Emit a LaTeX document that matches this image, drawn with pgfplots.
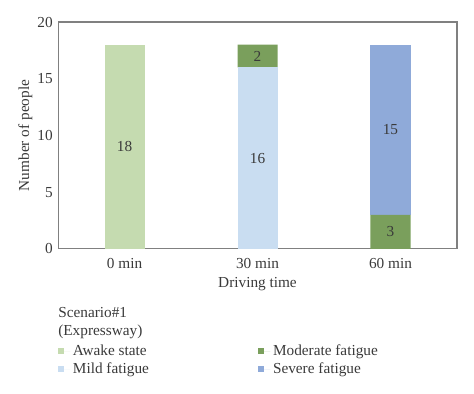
\documentclass[border=0pt]{standalone}
\usepackage{fontspec}
\setmainfont{Liberation Serif}
\usepackage{pgfplots}
\pgfplotsset{compat=1.18}
\usetikzlibrary{calc}
\definecolor{awake}{HTML}{C5DBB0}
\definecolor{mild}{HTML}{C9DDF1}
\definecolor{moderate}{HTML}{7A9F5C}
\definecolor{severe}{HTML}{8FAAD9}
\definecolor{txt}{HTML}{3A3A3A}
\definecolor{frame}{HTML}{808080}
\begin{document}
\fontsize{11.5}{13.5}\selectfont
\begin{tikzpicture}
\begin{axis}[
  scale only axis, width=299bp, height=170bp,
  ybar stacked, bar width=30bp,
  xmin=-0.5, xmax=2.5, ymin=0, ymax=20,
  xtick={0,1,2}, xticklabels={0 min,30 min,60 min},
  ytick={0,5,10,15,20},
  major tick length=0pt,
  axis line style={frame, line width=0.8pt},
  tick label style={color=txt, font=\fontsize{11.5}{13.5}\selectfont},
  /pgf/number format/assume math mode=true,
  label style={color=txt, font=\fontsize{11.5}{13.5}\selectfont},
  xlabel={Driving time}, ylabel={Number of people},
  xlabel style={yshift=1.5bp},
  ylabel style={yshift=-4bp},
  xticklabel style={yshift=-3bp},
  visualization depends on={rawy \as \rawy},
  nodes near coords={\ifdim\rawy pt>0pt \pgfmathprintnumber{\rawy}\fi},
  every node near coord/.append style={anchor=center, color=txt, font=\fontsize{11.5}{13.5}\selectfont},
  legend columns=2, transpose legend,
  legend cell align=left,
  legend style={at={(0,0)}, anchor=north west, xshift=-3bp, yshift=-67.5bp, draw=none, fill=none,
    font=\fontsize{11.5}{13.5}\selectfont, text=txt, row sep=0bp,
    /tikz/every even column/.append style={column sep=80bp}},
  legend image code/.code={\fill[#1,draw=none] (0bp,-2.25bp) rectangle (4.5bp,2.25bp); \path (0bp,0bp) -- (9bp,0bp);},
]
\addplot[fill=awake, draw=none] coordinates {(0,18) (1,0) (2,0)};
\addplot[fill=mild, draw=none] coordinates {(0,0) (1,16) (2,0)};
\addplot[fill=moderate, draw=none] coordinates {(0,0) (1,2) (2,3)};
\addplot[fill=severe, draw=none] coordinates {(0,0) (1,0) (2,15)};
\legend{Awake state, Mild fatigue, Moderate fatigue, Severe fatigue}
\end{axis}
\node[anchor=north west, align=left, inner sep=0pt, text=txt, yshift=-44bp] at (current axis.south west) {Scenario\#1\\(Expressway)};
\path[use as bounding box] ($(current axis.south west)+(-43.5bp,-108.75bp)$) rectangle ($(current axis.north east)+(12.75bp,16.5bp)$);
\end{tikzpicture}
\end{document}
